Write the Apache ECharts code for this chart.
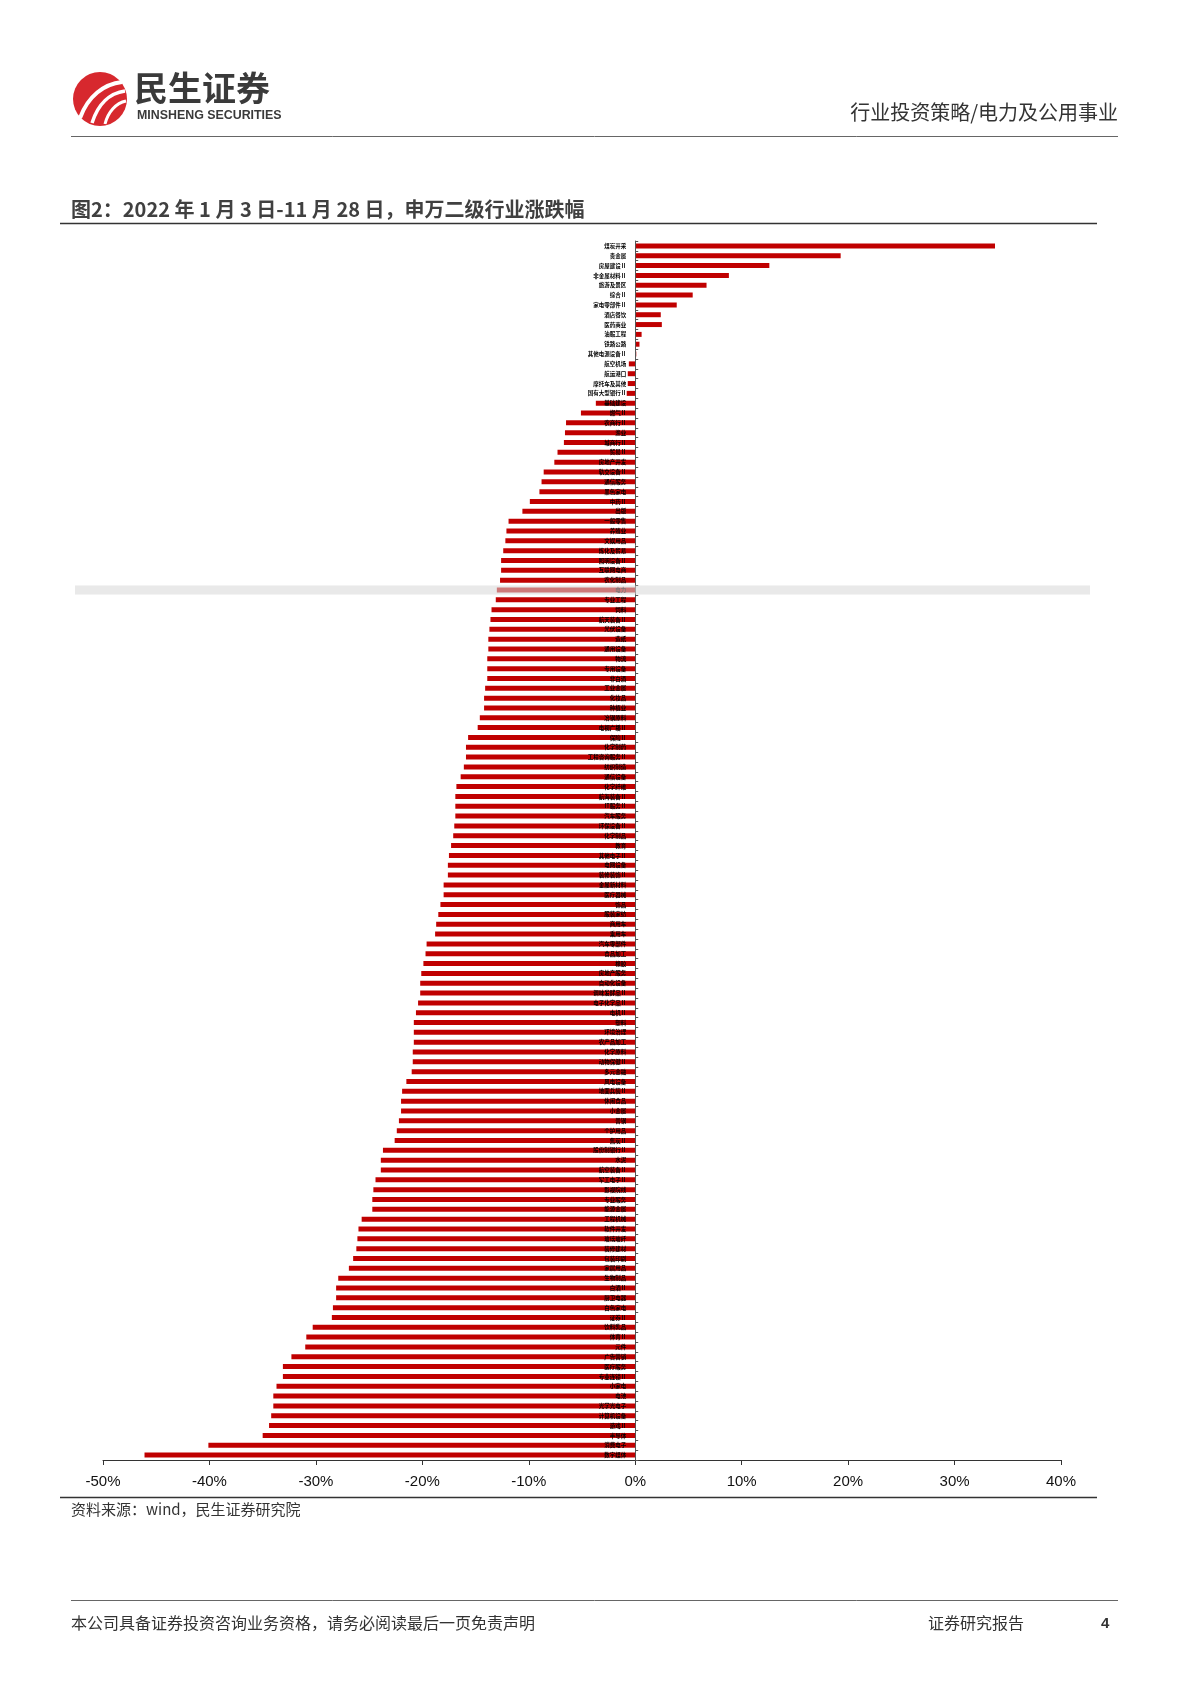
<!DOCTYPE html>
<html><head><meta charset="utf-8">
<script src="https://cdn.jsdelivr.net/npm/echarts@6/dist/echarts.min.js"></script>
<style>html,body{margin:0;padding:0;background:#fff}#c{width:1190px;height:1683px}</style>
</head><body><div id="c"></div>
<script>
const categories = ['煤炭开采','贵金属','房屋建设Ⅱ','非金属材料Ⅱ','旅游及景区','综合Ⅱ','家电零部件Ⅱ','酒店餐饮','医药商业','油服工程','铁路公路','其他电源设备Ⅱ','航空机场','航运港口','摩托车及其他','国有大型银行Ⅱ','基础建设','燃气Ⅱ','农商行Ⅱ','渔业','城商行Ⅱ','贸易Ⅱ','房地产开发','轨交设备Ⅱ','通信服务','黑色家电','中药Ⅱ','出版','一般零售','养殖业','文娱用品','炼化及贸易','照明设备Ⅱ','互联网电商','农化制品','电力','专业工程','饲料','航天装备Ⅱ','光伏设备','造纸','通用设备','物流','专用设备','非白酒','工业金属','化妆品','种植业','冶钢原料','电视广播Ⅱ','保险Ⅱ','化学制药','工程咨询服务Ⅱ','纺织制造','通信设备','化学纤维','航海装备Ⅱ','IT服务Ⅱ','汽车服务','环保设备Ⅱ','化学制品','教育','其他电子Ⅱ','电网设备','装修装饰Ⅱ','金属新材料','医疗器械','饰品','服装家纺','商用车','乘用车','汽车零部件','食品加工','橡胶','房地产服务','自动化设备','调味发酵品Ⅱ','电子化学品Ⅱ','电机Ⅱ','塑料','环境治理','农产品加工','化学原料','动物保健Ⅱ','多元金融','风电设备','地面兵装Ⅱ','休闲食品','小金属','普钢','个护用品','焦炭Ⅱ','股份制银行Ⅱ','水泥','航空装备Ⅱ','军工电子Ⅱ','影视院线','专业服务','能源金属','工程机械','软件开发','玻璃玻纤','装修建材','包装印刷','家居用品','生物制品','白酒Ⅱ','厨卫电器','白色家电','证券Ⅱ','饮料乳品','体育Ⅱ','元件','广告营销','医疗服务','专业连锁Ⅱ','小家电','电池','光学光电子','计算机设备','游戏Ⅱ','半导体','消费电子','数字媒体'];
const changePct = [33.8,19.3,12.6,8.8,6.7,5.4,3.9,2.4,2.5,0.6,0.4,0.1,-0.6,-0.7,-0.7,-0.8,-3.7,-5.1,-6.5,-6.6,-6.7,-7.3,-7.6,-8.6,-8.8,-9.0,-9.9,-10.6,-11.9,-12.1,-12.2,-12.4,-12.6,-12.6,-12.7,-13.0,-13.1,-13.5,-13.6,-13.7,-13.8,-13.8,-13.9,-13.9,-13.9,-14.1,-14.2,-14.2,-14.6,-14.8,-15.7,-15.9,-15.9,-16.1,-16.4,-16.8,-16.9,-16.9,-16.9,-17.0,-17.1,-17.3,-17.5,-17.6,-17.6,-18.0,-18.0,-18.3,-18.5,-18.7,-18.8,-19.6,-19.7,-19.9,-20.1,-20.2,-20.2,-20.4,-20.6,-20.8,-20.8,-20.8,-20.9,-20.9,-21.0,-21.5,-21.9,-22.0,-22.0,-22.2,-22.4,-22.6,-23.7,-23.9,-23.9,-24.4,-24.6,-24.7,-24.7,-25.7,-26.0,-26.1,-26.2,-26.5,-26.9,-27.9,-28.1,-28.1,-28.4,-28.5,-30.3,-30.9,-31.0,-32.3,-33.1,-33.1,-33.7,-34.0,-34.0,-34.2,-34.4,-35.0,-40.1,-46.1];
const highlighted = ['电力'];
const xTicks = {min: -50, max: 40, interval: 10};
const titleText = '图2：2022 年 1 月 3 日-11 月 28 日，申万二级行业涨跌幅';

const CJK = '"Noto Sans CJK SC","Noto Sans",sans-serif';
const gridLeft = 103, gridRight = 129, chartW = 1190;
const plotW = chartW - gridLeft - gridRight;
const zeroOffset = -plotW * (0 - xTicks.min) / (xTicks.max - xTicks.min);

const chart = echarts.init(document.getElementById('c'), null, {renderer: 'canvas'});
const option = {
  animation: false,
  backgroundColor: '#fff',
  grid: {left: gridLeft, right: gridRight, top: 241, height: 1219, containLabel: false},
  xAxis: {
    type: 'value', min: xTicks.min, max: xTicks.max, interval: xTicks.interval,
    axisLine: {show: true, onZero: false, lineStyle: {color: '#333', width: 1}},
    axisTick: {show: true, length: 5, lineStyle: {color: '#333'}},
    splitLine: {show: false},
    axisLabel: {formatter: '{value}%', fontSize: 15, color: '#111', margin: 14, fontFamily: '"Liberation Sans",Arial,sans-serif'}
  },
  yAxis: {
    type: 'category', inverse: true, data: categories, z: 3,
    position: 'left', offset: zeroOffset,
    axisLine: {show: true, onZero: false, lineStyle: {color: '#555', width: 1}},
    axisTick: {show: true, inside: true, length: 3, lineStyle: {color: '#555'}},
    axisLabel: {fontSize: 5.5, color: '#000', margin: 9, interval: 0, fontWeight: 'bold', fontFamily: CJK}
  },
  series: [
    {
      type: 'bar', data: changePct, barWidth: 5,
      itemStyle: {color: '#C00000'}, z: 2
    },
    {
      type: 'custom', z: 10, silent: true,
      data: highlighted.map(c => [0, c]),
      encode: {x: 0, y: 1},
      renderItem: function (params, api) {
        const cs = params.coordSys;
        const p = api.coord([0, api.value(1)]);
        const h = api.size([0, 1])[1];
        return {
          type: 'rect',
          shape: {x: cs.x - 28, y: p[1] - h * 0.46, width: cs.width + 57, height: h * 0.92},
          style: {fill: 'rgba(215,215,215,0.56)'}
        };
      }
    }
  ],
  graphic: [
    {type: 'circle', shape: {cx: 100, cy: 99, r: 27}, style: {fill: '#D7282E'}},
    {type: 'bezierCurve', shape: {x1: 80, y1: 118, x2: 122, y2: 82, cpx1: 88, cpy1: 96, cpx2: 104, cpy2: 84}, style: {stroke: '#fff', lineWidth: 4, fill: null}},
    {type: 'bezierCurve', shape: {x1: 92, y1: 123, x2: 125, y2: 91, cpx1: 98, cpy1: 104, cpx2: 110, cpy2: 93}, style: {stroke: '#fff', lineWidth: 3.5, fill: null}},
    {type: 'bezierCurve', shape: {x1: 105, y1: 124, x2: 126, y2: 101, cpx1: 108, cpy1: 112, cpx2: 116, cpy2: 103}, style: {stroke: '#fff', lineWidth: 3, fill: null}},
    {type: 'text', left: 134, top: 71, style: {text: '民生证券', font: 'bold 34px ' + CJK, fill: '#3a3a3a'}},
    {type: 'text', left: 137, top: 110, style: {text: 'MINSHENG SECURITIES', font: 'bold 12.4px "Liberation Sans",Arial,sans-serif', fill: '#3a3a3a'}},
    {type: 'text', right: 72, top: 102, style: {text: '行业投资策略/电力及公用事业', font: '20px ' + CJK, fill: '#333'}},
    {type: 'line', shape: {x1: 71, y1: 136.5, x2: 1118, y2: 136.5}, style: {stroke: '#666', lineWidth: 1}},
    {type: 'text', left: 71, top: 199, style: {text: titleText, font: 'bold 20px ' + CJK, fill: '#404040'}},
    {type: 'line', shape: {x1: 60, y1: 223.5, x2: 1097, y2: 223.5}, style: {stroke: '#333', lineWidth: 1.3}},
    {type: 'line', shape: {x1: 60, y1: 1497.5, x2: 1097, y2: 1497.5}, style: {stroke: '#333', lineWidth: 1.3}},
    {type: 'text', left: 71, top: 1502, style: {text: '资料来源：wind，民生证券研究院', font: '15px ' + CJK, fill: '#333'}},
    {type: 'line', shape: {x1: 71, y1: 1600.5, x2: 1118, y2: 1600.5}, style: {stroke: '#666', lineWidth: 1}},
    {type: 'text', left: 71, top: 1615, style: {text: '本公司具备证券投资咨询业务资格，请务必阅读最后一页免责声明', font: '16px ' + CJK, fill: '#333'}},
    {type: 'text', left: 928, top: 1615, style: {text: '证券研究报告', font: '16px ' + CJK, fill: '#333'}},
    {type: 'text', left: 1101, top: 1616, style: {text: '4', font: 'bold 15px "Liberation Sans",Arial,sans-serif', fill: '#333'}}
  ]
};
chart.setOption(option);
</script></body></html>
